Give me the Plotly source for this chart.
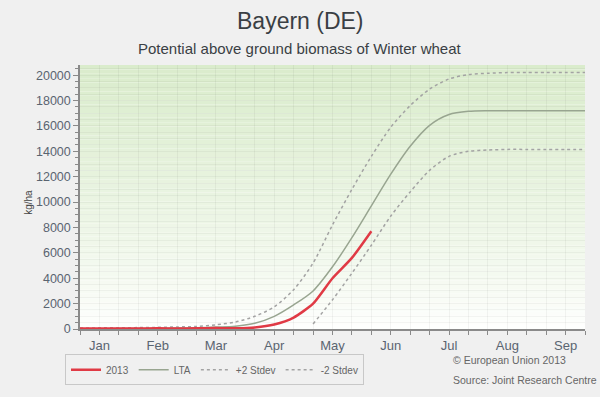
import plotly.graph_objects as go

# Dekad index (3 dekads per month, Jan..Sep)
dekads = list(range(1, 28))
month_labels = ["Jan", "Feb", "Mar", "Apr", "May", "Jun", "Jul", "Aug", "Sep"]
month_pos = [2, 5, 8, 11, 14, 17, 20, 23, 26]

lta = [20, 25, 30, 40, 50, 70, 100, 150, 220, 450, 1000, 1900, 3000, 4900, 7200,
       9700, 12200, 14400, 16050, 16900, 17150, 17200, 17200, 17200, 17200, 17200, 17200]
plus2 = [80, 90, 100, 110, 130, 160, 200, 330, 550, 1000, 1750, 3100, 5200, 8200, 11000,
         13600, 15900, 17600, 18900, 19700, 20050, 20150, 20200, 20200, 20200, 20200, 20200]
minus2 = [None] * 12 + [400, 2300, 4400, 6600, 8900, 10800, 12500, 13600, 14000, 14100,
                        14150, 14150, 14150, 14150, 14150]
y2013_x = list(range(1, 17))
y2013 = [30, 40, 30, 40, 50, 40, 60, 70, 60, 120, 350, 900, 2000, 4000, 5600, 7700]

fig = go.Figure()

# vertical gradient background (light green at top -> white at bottom)
n = 60
top = (218, 236, 204)
bot = (255, 255, 255)
for i in range(n):
    t = ((i + 0.5) / n) ** 0.8
    c = tuple(round(bot[k] + (top[k] - bot[k]) * t) for k in range(3))
    fig.add_shape(type="rect", xref="paper", yref="paper",
                  x0=0, x1=1, y0=i / n, y1=(i + 1) / n,
                  fillcolor="rgb(%d,%d,%d)" % c, line_width=0, layer="below")

fig.add_trace(go.Scatter(x=dekads, y=minus2, name="-2 Stdev", mode="lines",
                         line=dict(color="#a3a3a3", width=1.5, dash="3px,3px",
                                   shape="spline", smoothing=0.8)))
fig.add_trace(go.Scatter(x=dekads, y=plus2, name="+2 Stdev", mode="lines",
                         line=dict(color="#a3a3a3", width=1.5, dash="3px,3px",
                                   shape="spline", smoothing=0.8)))
fig.add_trace(go.Scatter(x=dekads, y=lta, name="LTA", mode="lines",
                         line=dict(color="#98a590", width=1.5,
                                   shape="spline", smoothing=0.8)))
fig.add_trace(go.Scatter(x=y2013_x, y=y2013, name="2013", mode="lines",
                         line=dict(color="#e03a45", width=2.5,
                                   shape="spline", smoothing=0.6)))

pw, ph = 505.0, 271.0
def px(xp):
    return (xp - 80) / pw
def py(yp):
    return (336 - yp) / ph

fig.update_layout(
    width=600, height=397,
    margin=dict(l=80, r=15, t=65, b=61),
    paper_bgcolor="#f0f0f0",
    plot_bgcolor="#ffffff",
    font=dict(family="Liberation Sans, Arial, sans-serif", color="#555555"),
    showlegend=True,
    legend=dict(orientation="h", x=px(65), y=py(362), xanchor="left", yanchor="top",
                traceorder="reversed", bordercolor="#c8c8c8", borderwidth=1,
                bgcolor="rgba(0,0,0,0)", font=dict(size=10, color="#666666"),
                itemwidth=30),
    annotations=[
        dict(text="Bayern (DE)", x=px(300), y=py(20), xref="paper", yref="paper",
             yanchor="middle", showarrow=False, font=dict(size=23, color="#3a3f44")),
        dict(text="Potential above ground biomass of Winter wheat", x=px(300),
             y=py(48), xref="paper", yref="paper", yanchor="middle", showarrow=False,
             font=dict(size=15, color="#3a3f44")),
        dict(text="kg/ha", textangle=-90, xref="paper", yref="paper",
             x=px(21), y=py(206), yanchor="middle", showarrow=False,
             font=dict(size=10, color="#444444")),
        dict(text="© European Union 2013", xref="paper", yref="paper",
             x=px(451), y=py(368), yanchor="middle", showarrow=False, xanchor="left",
             font=dict(size=10.5, color="#666666")),
        dict(text="Source: Joint Research Centre", xref="paper", yref="paper",
             x=px(451), y=py(388), yanchor="middle", showarrow=False, xanchor="left",
             font=dict(size=10.5, color="#666666")),
    ],
)

fig.update_xaxes(
    range=[1, 27], tickvals=month_pos, ticktext=month_labels,
    showgrid=False, zeroline=False,
    showline=True, linecolor="#8a8a8a", linewidth=1.5,
    ticks="outside", ticklen=4, tickcolor="#8a8a8a",
    tickfont=dict(size=13, color="#5a6470"),
    minor=dict(dtick=1, tick0=1, ticks="outside", ticklen=4, tickcolor="#8a8a8a",
               showgrid=True, gridcolor="rgba(0,0,0,0.045)", gridwidth=1),
)
fig.update_yaxes(
    range=[0, 20800], tickvals=list(range(0, 20001, 2000)), tickformat="d",
    showgrid=False, zeroline=False,
    showline=True, linecolor="#8a8a8a", linewidth=1.5,
    ticks="outside", ticklen=5, tickcolor="#8a8a8a",
    tickfont=dict(size=12.5, color="#5a6470"),
    minor=dict(dtick=500, tick0=0, ticks="outside", ticklen=3, tickcolor="#8a8a8a",
               showgrid=True, gridcolor="rgba(0,0,0,0.04)", gridwidth=1),
)

fig.write_html("out.html")
